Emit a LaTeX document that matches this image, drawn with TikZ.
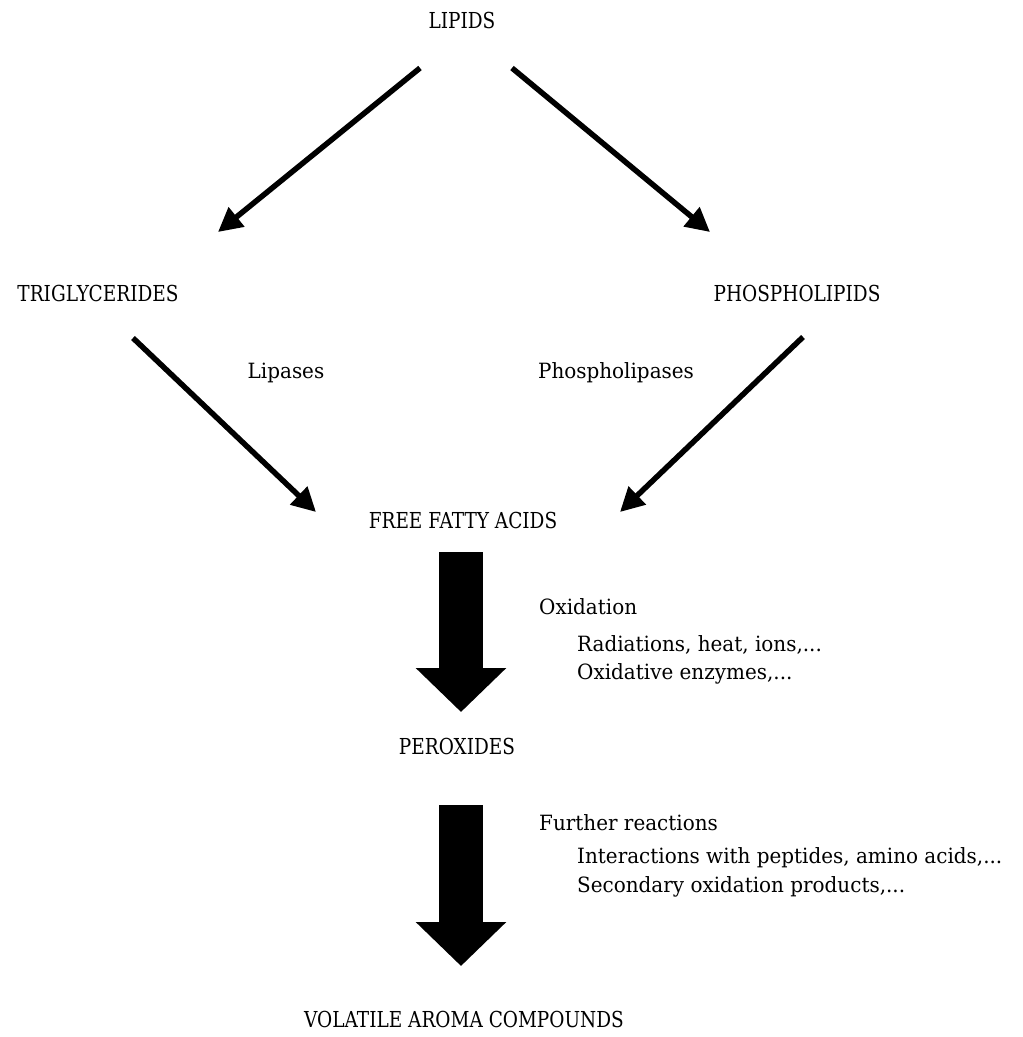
\documentclass[tikz,border=0pt]{standalone}
\usepackage{fontspec}
\setmainfont{DejaVu Serif}
\newfontfamily\capsfnt{DejaVu Serif}[FakeStretch=0.84]
\newfontfamily\lowfnt{DejaVu Serif}[FakeStretch=0.95]
\usetikzlibrary{arrows.meta}
\begin{document}
\begin{tikzpicture}[x=1pt,y=-1pt,
  caplbl/.style={inner sep=0pt,font=\capsfnt\fontsize{22}{26}\selectfont},
  lbl/.style={inner sep=0pt,font=\lowfnt\fontsize{21}{25}\selectfont},
  thinarrow/.style={line width=5.5pt,-{Triangle[length=24pt,width=24pt]}},
  bigarrow/.style={line width=44pt,-{Triangle[length=44pt,width=88pt]}}]
\useasboundingbox (0,0) rectangle (1023,1037);
\node[caplbl] (lipids) at (462,20) {LIPIDS};
\node[caplbl] (tri) at (98,293) {TRIGLYCERIDES};
\node[caplbl] (phos) at (797,293) {PHOSPHOLIPIDS};
\node[lbl] (lip) at (286,373) {Lipases};
\node[lbl] (phl) at (616,373) {Phospholipases};
\node[caplbl] (ffa) at (463,520) {FREE FATTY ACIDS};
\node[lbl,anchor=west] (ox) at (539,607) {Oxidation};
\node[lbl,anchor=west] (rad) at (577,645) {Radiations, heat, ions,...};
\node[lbl,anchor=west] (oxe) at (577,674) {Oxidative enzymes,...};
\node[caplbl] (per) at (457,746) {PEROXIDES};
\node[lbl,anchor=west] (fr) at (539,823) {Further reactions};
\node[lbl,anchor=west] (int) at (577,858) {Interactions with peptides, amino acids,...};
\node[lbl,anchor=west] (sec) at (577,887) {Secondary oxidation products,...};
\node[caplbl] (vac) at (464,1019) {VOLATILE AROMA COMPOUNDS};
% connector endpoints
\coordinate (a1s) at (420,68);  \coordinate (a1e) at (218,232);
\coordinate (a2s) at (512,68);  \coordinate (a2e) at (710,232);
\coordinate (a3s) at (133,338); \coordinate (a3e) at (316,512);
\coordinate (a4s) at (803,337); \coordinate (a4e) at (620,512);
\coordinate (b1s) at (461,552); \coordinate (b1e) at (461,712);
\coordinate (b2s) at (461,805); \coordinate (b2e) at (461,966);
\draw[thinarrow] (a1s) -- (a1e);
\draw[thinarrow] (a2s) -- (a2e);
\draw[thinarrow] (a3s) -- (a3e);
\draw[thinarrow] (a4s) -- (a4e);
\draw[bigarrow] (b1s) -- (b1e);
\draw[bigarrow] (b2s) -- (b2e);
\end{tikzpicture}
\end{document}
